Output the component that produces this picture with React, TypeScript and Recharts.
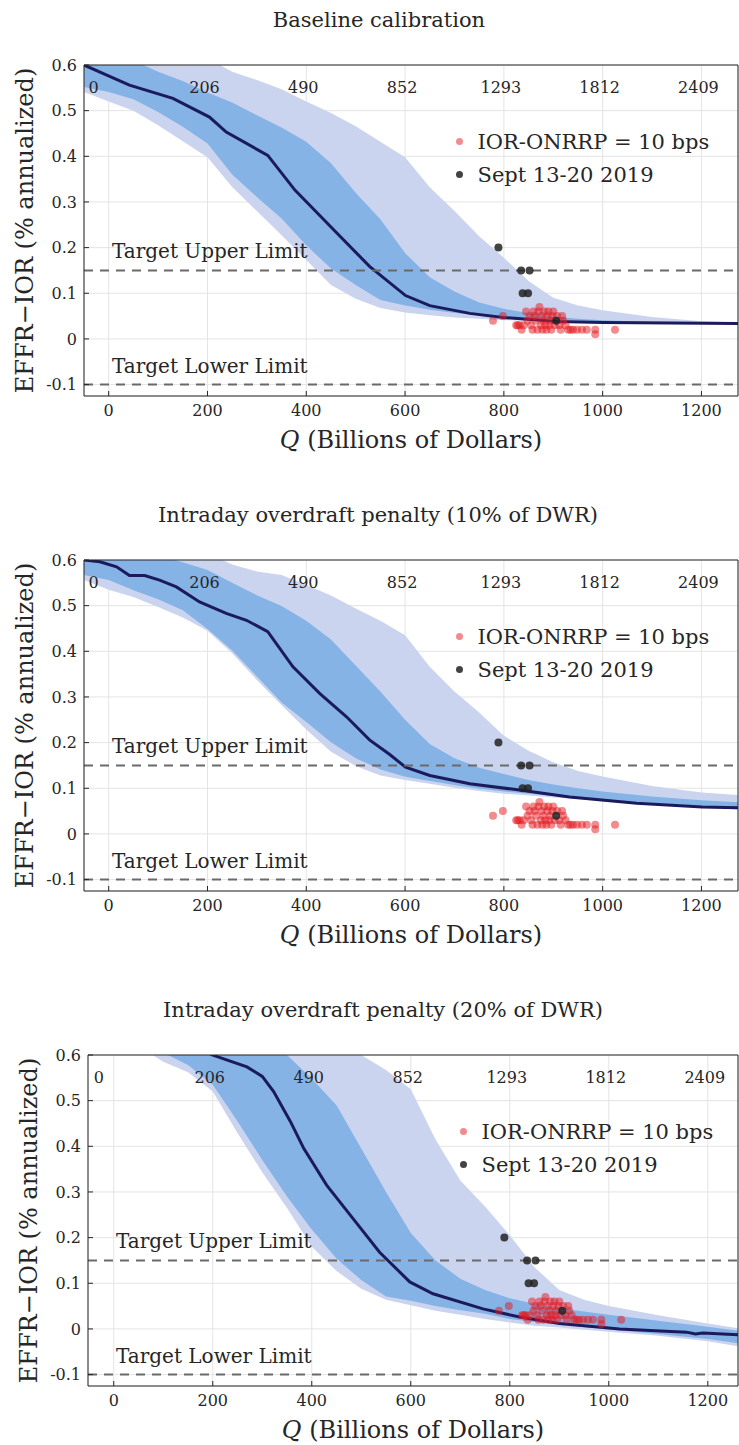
import React from "react";
import {
  Area, CartesianGrid, ComposedChart, Line, ReferenceLine, Scatter, XAxis, YAxis,
} from "recharts";

const FONT = "'DejaVu Serif', serif";
const INK = "#262626";
const OUTER_FILL = "#cad4ef";
const INNER_FILL = "#86b3e6";
const MEDIAN = "#1b1a5c";
const RED = "#e4171d";
const BLACK = "#222222";

const Q_TICKS = [0, 200, 400, 600, 800, 1000, 1200];
const Y_TICKS = [-0.1, 0, 0.1, 0.2, 0.3, 0.4, 0.5, 0.6];
const TOP_LABELS = ["0", "206", "490", "852", "1293", "1812", "2409"];
const UPPER_LIMIT = 0.15;
const LOWER_LIMIT = -0.1;
const Y_MAX = 0.6;

// grid of Q used for the percentile bands
const BAND_Q = [-50, 0, 50, 100, 150, 200, 250, 300, 350, 400, 450, 500, 550, 600, 650, 700, 750, 800, 850, 900, 950, 1000, 1100, 1200, 1280];

// baseline calibration
const BASE_OUTER_HI = [0.68, 0.68, 0.68, 0.67, 0.65, 0.615, 0.585, 0.567, 0.547, 0.52, 0.495, 0.466, 0.432, 0.398, 0.332, 0.28, 0.225, 0.178, 0.127, 0.09, 0.073, 0.063, 0.048, 0.039, 0.036];
const BASE_INNER_HI = [0.65, 0.63, 0.61, 0.585, 0.565, 0.54, 0.518, 0.49, 0.463, 0.432, 0.385, 0.32, 0.262, 0.188, 0.135, 0.104, 0.08, 0.066, 0.056, 0.049, 0.044, 0.041, 0.037, 0.036, 0.035];
const BASE_INNER_LO = [0.552, 0.541, 0.525, 0.497, 0.465, 0.428, 0.36, 0.311, 0.264, 0.205, 0.154, 0.118, 0.085, 0.073, 0.064, 0.057, 0.052, 0.048, 0.046, 0.043, 0.04, 0.038, 0.036, 0.035, 0.034];
const BASE_OUTER_LO = [0.541, 0.52, 0.5, 0.468, 0.433, 0.398, 0.333, 0.28, 0.227, 0.173, 0.118, 0.088, 0.068, 0.058, 0.052, 0.047, 0.044, 0.041, 0.04, 0.038, 0.037, 0.036, 0.035, 0.034, 0.033];
const BASE_MED_Q = [-50, 42, 130, 204, 238, 322, 377, 450, 528, 601, 650, 731, 798, 907, 1000, 1280];
const BASE_MED = [0.6, 0.556, 0.527, 0.486, 0.453, 0.402, 0.326, 0.245, 0.159, 0.095, 0.073, 0.056, 0.047, 0.038, 0.036, 0.034];

// intraday overdraft penalty, 10% of DWR
const P10_OUTER_HI = [0.68, 0.68, 0.68, 0.67, 0.65, 0.615, 0.59, 0.575, 0.567, 0.545, 0.522, 0.494, 0.467, 0.435, 0.366, 0.312, 0.266, 0.215, 0.182, 0.157, 0.138, 0.126, 0.105, 0.091, 0.085];
const P10_INNER_HI = [0.66, 0.64, 0.625, 0.61, 0.595, 0.578, 0.55, 0.523, 0.499, 0.467, 0.426, 0.369, 0.312, 0.25, 0.197, 0.166, 0.145, 0.131, 0.118, 0.108, 0.1, 0.093, 0.082, 0.074, 0.069];
const P10_INNER_LO = [0.567, 0.556, 0.534, 0.514, 0.49, 0.449, 0.402, 0.345, 0.288, 0.245, 0.201, 0.166, 0.141, 0.125, 0.116, 0.107, 0.099, 0.093, 0.088, 0.083, 0.079, 0.075, 0.068, 0.062, 0.056];
const P10_OUTER_LO = [0.556, 0.535, 0.519, 0.497, 0.474, 0.445, 0.396, 0.337, 0.282, 0.229, 0.18, 0.149, 0.128, 0.118, 0.11, 0.101, 0.094, 0.088, 0.084, 0.08, 0.077, 0.073, 0.066, 0.059, 0.053];
const P10_MED_Q = [-50, -18, 16, 42, 73, 103, 137, 184, 238, 279, 322, 373, 427, 482, 528, 569, 601, 650, 731, 832, 933, 1069, 1202, 1280];
const P10_MED = [0.6, 0.596, 0.585, 0.566, 0.566, 0.556, 0.541, 0.508, 0.483, 0.468, 0.443, 0.366, 0.308, 0.256, 0.206, 0.174, 0.146, 0.128, 0.11, 0.096, 0.081, 0.067, 0.059, 0.057];

// intraday overdraft penalty, 20% of DWR
const P20_OUTER_HI = [0.75, 0.75, 0.75, 0.75, 0.75, 0.75, 0.75, 0.75, 0.72, 0.68, 0.63, 0.6, 0.567, 0.525, 0.415, 0.325, 0.268, 0.205, 0.135, 0.085, 0.064, 0.05, 0.03, 0.012, -0.002];
const P20_INNER_HI = [0.8, 0.8, 0.8, 0.8, 0.8, 0.78, 0.74, 0.66, 0.6, 0.548, 0.49, 0.395, 0.3, 0.21, 0.15, 0.11, 0.085, 0.067, 0.055, 0.046, 0.038, 0.031, 0.018, 0.005, -0.007];
const P20_INNER_LO = [0.75, 0.68, 0.64, 0.605, 0.578, 0.535, 0.455, 0.37, 0.29, 0.218, 0.154, 0.107, 0.071, 0.062, 0.05, 0.041, 0.033, 0.022, 0.015, 0.01, 0.004, -0.001, -0.011, -0.022, -0.034];
const P20_OUTER_LO = [0.72, 0.66, 0.62, 0.585, 0.562, 0.52, 0.429, 0.343, 0.265, 0.18, 0.127, 0.088, 0.064, 0.052, 0.04, 0.031, 0.022, 0.014, 0.007, 0.003, -0.002, -0.006, -0.015, -0.027, -0.041];
const P20_MED_Q = [150, 199, 269, 300, 323, 357, 384, 430, 483, 537, 598, 645, 746, 820, 900, 1022, 1157, 1175, 1190, 1280];
const P20_MED = [0.63, 0.6, 0.574, 0.553, 0.52, 0.454, 0.395, 0.315, 0.242, 0.168, 0.103, 0.077, 0.044, 0.026, 0.012, 0.0, -0.007, -0.011, -0.009, -0.014];

// observed days, IOR-ONRRP = 10 bps
const OBS_Q = [778, 798, 825, 828, 832, 836, 840, 845, 848, 852, 855, 858, 860, 862, 865, 868, 870, 872, 875, 876, 878, 880, 882, 884, 886, 888, 890, 892, 894, 896, 898, 900, 903, 908, 912, 915, 918, 920, 925, 930, 935, 940, 948, 958, 968, 985, 985, 1025];
const OBS_Y = [0.04, 0.05, 0.03, 0.03, 0.03, 0.02, 0.03, 0.06, 0.04, 0.05, 0.03, 0.02, 0.06, 0.05, 0.04, 0.02, 0.06, 0.07, 0.03, 0.05, 0.02, 0.04, 0.06, 0.03, 0.02, 0.05, 0.06, 0.03, 0.04, 0.02, 0.05, 0.06, 0.03, 0.05, 0.03, 0.02, 0.05, 0.04, 0.03, 0.02, 0.02, 0.02, 0.02, 0.02, 0.02, 0.02, 0.01, 0.02];

// Sept 13-20 2019
const SEPT_Q = [789, 835, 852, 838, 849, 906];
const SEPT_Y = [0.2, 0.15, 0.15, 0.1, 0.1, 0.04];

const bandRows = (q: number[], lo: number[], hi: number[]) => q.map((x, i) => ({ q: x, band: [lo[i], hi[i]] }));
const pointRows = (q: number[], v: number[]) => q.map((x, i) => ({ q: x, v: v[i] }));

const obsRows = pointRows(OBS_Q, OBS_Y);
const septRows = pointRows(SEPT_Q, SEPT_Y);
// second scale printed along the top edge, inside the box
const topRows = Q_TICKS.map((q, i) => ({ q, v: Y_MAX, label: TOP_LABELS[i] }));

type PanelProps = {
  top: number;
  title: string;
  titleX: number;
  axisW: number;
  xDomain: [number, number];
  outerLo: number[]; outerHi: number[]; innerLo: number[]; innerHi: number[];
  medQ: number[]; med: number[];
};

const tickStyle = { fill: INK, fontSize: 16, fontFamily: FONT };

function Panel(p: PanelProps) {
  const outer = bandRows(BAND_Q, p.outerLo, p.outerHi);
  const inner = bandRows(BAND_Q, p.innerLo, p.innerHi);
  const median = pointRows(p.medQ, p.med);
  const shift = p.axisW - 84;

  const topLabel = (s: any) => (
    <text x={s.cx + (s.payload.q === 0 ? -15 : -3)} y={s.cy + 22} textAnchor="middle" dominantBaseline="central"
      fill={INK} fontSize={16} fontFamily={FONT}>{s.payload.label}</text>
  );

  const limitLabel = (text: string) => (props: any) => (
    <text x={props.viewBox.x + 28} y={props.viewBox.y - 12} fill={INK} fontSize={20} fontFamily={FONT}>{text}</text>
  );

  return (
    <div style={{ position: "absolute", top: p.top, left: 0, width: 739, height: 495 }}>
      <div style={{ position: "absolute", top: 7, left: p.titleX, transform: "translateX(-50%)", whiteSpace: "nowrap",
        fontFamily: FONT, fontSize: 21, color: INK, lineHeight: "26px" }}>{p.title}</div>
      <ComposedChart width={739} height={495} margin={{ top: 64, right: 0, bottom: 39, left: 0 }}>
        <CartesianGrid stroke="#e4e4e4" strokeWidth={1} />
        <Area data={outer} dataKey="band" type="linear" fill={OUTER_FILL} fillOpacity={1} stroke="none" isAnimationActive={false} />
        <Area data={inner} dataKey="band" type="linear" fill={INNER_FILL} fillOpacity={1} stroke="none" isAnimationActive={false} />
        <Line data={median} dataKey="v" type="linear" stroke={MEDIAN} strokeWidth={3} dot={false} isAnimationActive={false} />
        <ReferenceLine y={UPPER_LIMIT} stroke="#6a6a6a" strokeWidth={2} strokeDasharray="9 7" label={limitLabel("Target Upper Limit")} />
        <ReferenceLine y={LOWER_LIMIT} stroke="#6a6a6a" strokeWidth={2} strokeDasharray="9 7" label={limitLabel("Target Lower Limit")} />
        <Scatter data={topRows} dataKey="v" isAnimationActive={false} shape={topLabel} />
        <Scatter data={obsRows} dataKey="v" isAnimationActive={false}
          shape={(s: any) => <circle cx={s.cx} cy={s.cy} r={4} fill={RED} fillOpacity={0.5} />} />
        <Scatter data={septRows} dataKey="v" isAnimationActive={false}
          shape={(s: any) => <circle cx={s.cx} cy={s.cy} r={4} fill={BLACK} fillOpacity={0.85} />} />
        <XAxis dataKey="q" type="number" domain={p.xDomain} allowDataOverflow ticks={Q_TICKS} interval={0} height={60}
          tickSize={-5} tickMargin={14} tick={tickStyle} stroke={INK}
          label={(props: any) => (
            <text x={props.viewBox.x + props.viewBox.width / 2} y={props.viewBox.y + 44} textAnchor="middle"
              dominantBaseline="central" fill={INK} fontSize={24} fontFamily={FONT}>
              <tspan fontStyle="italic">Q</tspan> (Billions of Dollars)
            </text>
          )} />
        <XAxis xAxisId="top" orientation="top" type="number" domain={p.xDomain} allowDataOverflow ticks={Q_TICKS}
          interval={0} height={1} tickSize={-5} tick={false} stroke={INK} />
        <YAxis type="number" domain={[-0.125, Y_MAX]} allowDataOverflow ticks={Y_TICKS} interval={0} width={p.axisW}
          tickSize={-5} tickMargin={12} tick={tickStyle} stroke={INK} tickFormatter={(v: number) => String(Math.round(v * 10) / 10)}
          label={(props: any) => (
            <text x={25 + shift} y={props.viewBox.y + props.viewBox.height / 2} textAnchor="middle"
              dominantBaseline="central" transform={`rotate(-90, ${25 + shift}, ${props.viewBox.y + props.viewBox.height / 2})`}
              fill={INK} fontSize={24} fontFamily={FONT}>EFFR−IOR (% annualized)</text>
          )} />
        <YAxis yAxisId="right" orientation="right" type="number" domain={[-0.125, Y_MAX]} allowDataOverflow ticks={Y_TICKS}
          interval={0} width={1} tickSize={-5} tick={false} stroke={INK} />
      </ComposedChart>
      <div style={{ position: "absolute", top: 125, left: 452 + shift, fontFamily: FONT, fontSize: 21, color: INK }}>
        {[{ c: RED, o: 0.5, t: "IOR-ONRRP = 10 bps" }, { c: BLACK, o: 0.85, t: "Sept 13-20 2019" }].map((r) => (
          <div key={r.t} style={{ display: "flex", alignItems: "center", height: 33, whiteSpace: "nowrap" }}>
            <span style={{ display: "inline-block", width: 7, height: 7, borderRadius: "50%", background: r.c, opacity: r.o, marginLeft: 3.5 }} />
            <span style={{ marginLeft: 15 }}>{r.t}</span>
          </div>
        ))}
      </div>
    </div>
  );
}

export default function App() {
  return (
    <div style={{ position: "relative", width: 739, height: 1445, background: "#fff" }}>
      <style>{"body{margin:0}"}</style>
      <Panel top={0} title="Baseline calibration" titleX={379} axisW={84} xDomain={[-50, 1274]}
        outerLo={BASE_OUTER_LO} outerHi={BASE_OUTER_HI} innerLo={BASE_INNER_LO} innerHi={BASE_INNER_HI}
        medQ={BASE_MED_Q} med={BASE_MED} />
      <Panel top={495} title="Intraday overdraft penalty (10% of DWR)" titleX={378} axisW={84} xDomain={[-50, 1274]}
        outerLo={P10_OUTER_LO} outerHi={P10_OUTER_HI} innerLo={P10_INNER_LO} innerHi={P10_INNER_HI}
        medQ={P10_MED_Q} med={P10_MED} />
      <Panel top={990} title="Intraday overdraft penalty (20% of DWR)" titleX={383} axisW={88} xDomain={[-52, 1261]}
        outerLo={P20_OUTER_LO} outerHi={P20_OUTER_HI} innerLo={P20_INNER_LO} innerHi={P20_INNER_HI}
        medQ={P20_MED_Q} med={P20_MED} />
    </div>
  );
}
